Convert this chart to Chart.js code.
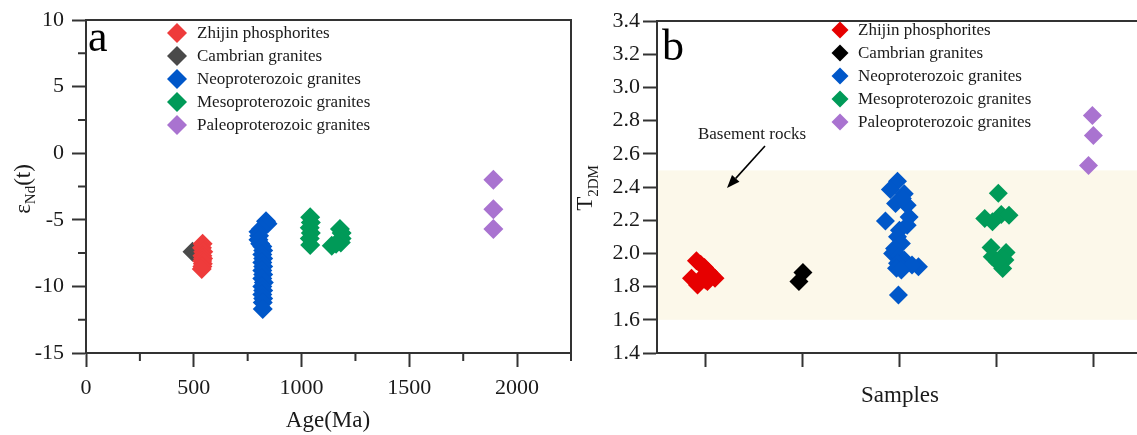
<!DOCTYPE html>
<html><head><meta charset="utf-8">
<script src="https://cdn.jsdelivr.net/npm/chart.js@4.4.1/dist/chart.umd.min.js"></script>
<style>
html,body{margin:0;padding:0;background:#fff;width:1137px;height:435px;overflow:hidden;}
#wa{position:absolute;left:0;top:0;width:575px;height:435px;}
#wb{position:absolute;left:560px;top:0;width:577px;height:435px;}
</style></head><body>
<div id="wa"><canvas id="ca" width="575" height="435"></canvas></div>
<div id="wb"><canvas id="cb" width="577" height="435"></canvas></div>
<script>
// ---------- data ----------
const seriesLabels = ['Zhijin phosphorites','Cambrian granites','Neoproterozoic granites','Mesoproterozoic granites','Paleoproterozoic granites'];
const colorsA = ['#ee3b3b','#4a4a4a','#0057c9','#009a58','#a973d0'];
const colorsB = ['#e60000','#000000','#0057c9','#009a58','#a973d0'];

// panel a : age (Ma) vs eNd(t)
const ageTicks = [0, 500, 1000, 1500, 2000];
const ageMinorTicks = [250, 750, 1250, 1750, 2250];
const epsTicks = [-15, -10, -5, 0, 5, 10];
const epsMinorTicks = [-12.5, -7.5, -2.5, 2.5, 7.5];
const zhijinAge = [541, 538, 544, 540, 543, 539, 542, 540, 537];
const zhijinEps = [-6.8, -7.1, -7.4, -7.7, -7.9, -8.1, -8.3, -8.5, -8.7];
const cambrianAge = [494];
const cambrianEps = [-7.4];
const neoAge = [835, 842, 812, 800, 803, 800, 808, 818, 822, 818, 822, 818, 822, 818, 822, 818, 825, 818, 822, 818, 822, 820, 820];
const neoEps = [-5.1, -5.3, -5.7, -5.9, -6.2, -6.5, -6.8, -7.0, -7.3, -7.6, -7.9, -8.2, -8.5, -8.8, -9.1, -9.4, -9.7, -10.0, -10.3, -10.6, -10.9, -11.2, -11.7];
const mesoAge = [1040, 1043, 1038, 1043, 1038, 1040, 1178, 1186, 1186, 1182, 1160, 1140];
const mesoEps = [-4.8, -5.2, -5.6, -6.0, -6.4, -6.9, -5.7, -6.0, -6.4, -6.7, -6.8, -6.95];
const paleoAge = [1890, 1890, 1890];
const paleoEps = [-2.0, -4.2, -5.7];

// panel b : sample group position vs T2DM (Ga)
const sampleTicks = [1, 2, 3, 4, 5];
const t2dmTicks = [1.4, 1.6, 1.8, 2.0, 2.2, 2.4, 2.6, 2.8, 3.0, 3.2, 3.4];
const zhijinPos = [0.856, 0.907, 0.918, 0.95, 0.99, 1.03, 1.06, 1.098, 1.02, 0.97, 1.0];
const zhijinT = [1.85, 1.955, 1.81, 1.935, 1.915, 1.89, 1.87, 1.85, 1.83, 1.86, 1.84];
const cambrianPos = [1.964, 2.005];
const cambrianT = [1.83, 1.885];
const neoPos = [2.98, 2.907, 3.05, 2.96, 3.08, 3.03, 2.856, 3.10, 3.08, 3.0, 2.98, 3.02, 2.95, 2.93, 3.0, 3.05, 2.98, 3.196, 2.97, 3.13, 3.02, 2.99];
const neoT = [2.435, 2.385, 2.36, 2.30, 2.29, 2.33, 2.195, 2.22, 2.17, 2.14, 2.10, 2.06, 2.03, 2.00, 1.98, 1.96, 1.94, 1.92, 1.91, 1.93, 1.90, 1.75];
const mesoPos = [4.02, 3.88, 4.05, 4.13, 3.96, 3.945, 3.957, 4.10, 4.088, 4.065, 4.01];
const mesoT = [2.363, 2.21, 2.235, 2.23, 2.19, 2.035, 1.98, 2.005, 1.96, 1.909, 1.95];
const paleoPos = [4.99, 5.0, 4.95];
const paleoT = [2.83, 2.71, 2.53];

const basementRange = [1.6, 2.5];
const basementLabel = 'Basement rocks';

// ---------- helpers ----------
const FONT = '"Liberation Serif", "Times New Roman", serif';
const AX = '#333333';
const TXT = '#1a1a1a';
const zip = (xs, ys) => xs.map((x, i) => ({x, y: ys[i]}));

function drawDiamond(ctx, x, y, r, c) {
  ctx.beginPath();
  ctx.moveTo(x, y - r); ctx.lineTo(x + r, y); ctx.lineTo(x, y + r); ctx.lineTo(x - r, y);
  ctx.closePath(); ctx.fillStyle = c; ctx.fill();
}
function rotTitle(ctx, bx, cy, parts) {
  ctx.save();
  let total = 0;
  parts.forEach(p => { ctx.font = p.size + 'px ' + FONT; p.w = ctx.measureText(p.t).width; total += p.w; });
  ctx.translate(bx, cy); ctx.rotate(-Math.PI / 2);
  ctx.textBaseline = 'alphabetic'; ctx.textAlign = 'left'; ctx.fillStyle = TXT;
  let x = -total / 2;
  parts.forEach(p => { ctx.font = p.size + 'px ' + FONT; ctx.fillText(p.t, x, p.dy || 0); x += p.w; });
  ctx.restore();
}

const decor = {
  id: 'decor',
  beforeDraw(chart, args, o) {
    if (!o.band) return;
    const ctx = chart.ctx, ca = chart.chartArea, ys = chart.scales.y;
    const yTop = ys.getPixelForValue(o.band[1]), yBot = ys.getPixelForValue(o.band[0]);
    ctx.save(); ctx.fillStyle = '#fcf8ea';
    ctx.fillRect(ca.left, yTop, ca.right - ca.left, yBot - yTop);
    ctx.restore();
  },
  afterDraw(chart, args, o) {
    const ctx = chart.ctx, ca = chart.chartArea, xs = chart.scales.x, ys = chart.scales.y;
    ctx.save();
    ctx.strokeStyle = AX; ctx.lineWidth = 2;
    ctx.beginPath();
    ctx.moveTo(ca.left - 1, ca.top); ctx.lineTo(ca.right + 1, ca.top);
    if (o.rightBorder) { ctx.moveTo(ca.right, ca.top); ctx.lineTo(ca.right, ca.bottom + 1); }
    (o.minorX || []).forEach(v => { const p = xs.getPixelForValue(v); ctx.moveTo(p, ca.bottom); ctx.lineTo(p, ca.bottom + 8); });
    (o.minorY || []).forEach(v => { const p = ys.getPixelForValue(v); ctx.moveTo(ca.left, p); ctx.lineTo(ca.left - 8, p); });
    ctx.stroke();
    // legend
    const L = o.legend;
    ctx.font = L.size + 'px ' + FONT; ctx.textBaseline = 'middle'; ctx.textAlign = 'left';
    chart.data.datasets.forEach((ds, i) => {
      const y = L.y0 + i * L.dy;
      drawDiamond(ctx, L.mx, y, L.r, ds.backgroundColor);
      ctx.fillStyle = TXT; ctx.fillText(ds.label, L.tx, y + 1);
    });
    // x title
    ctx.font = o.xTitle.size + 'px ' + FONT; ctx.textAlign = 'center'; ctx.textBaseline = 'alphabetic';
    ctx.fillStyle = TXT; ctx.fillText(o.xTitle.text, o.xTitle.x, o.xTitle.y);
    // y title
    rotTitle(ctx, o.yTitle.x, o.yTitle.y, o.yTitle.parts);
    // panel letter
    ctx.font = o.letter.size + 'px ' + FONT; ctx.textAlign = 'left'; ctx.fillStyle = '#000';
    ctx.fillText(o.letter.text, o.letter.x, o.letter.y);
    // annotation
    if (o.note) {
      const n = o.note;
      ctx.font = n.size + 'px ' + FONT; ctx.textAlign = 'center'; ctx.fillStyle = TXT;
      ctx.fillText(n.text, n.x, n.y);
      ctx.strokeStyle = '#000'; ctx.lineWidth = 1.6;
      const [x1, y1, x2, y2] = n.arrow;
      const ang = Math.atan2(y2 - y1, x2 - x1), hl = 13, hw = 5;
      const bx = x2 - hl * Math.cos(ang), by = y2 - hl * Math.sin(ang);
      ctx.beginPath(); ctx.moveTo(x1, y1); ctx.lineTo(bx, by); ctx.stroke();
      ctx.beginPath(); ctx.moveTo(x2, y2);
      ctx.lineTo(bx + hw * Math.sin(ang), by - hw * Math.cos(ang));
      ctx.lineTo(bx - hw * Math.sin(ang), by + hw * Math.cos(ang));
      ctx.closePath(); ctx.fillStyle = '#000'; ctx.fill();
    }
    ctx.restore();
  }
};

function axisOpts(extra) {
  return Object.assign({
    type: 'linear',
    border: {display: true, color: AX, width: 2},
    grid: {drawOnChartArea: false, drawTicks: true, tickLength: 14, tickWidth: 2, tickColor: AX, color: AX},
    title: {display: false}
  }, extra);
}
const fixTicks = vals => s => { s.ticks = vals.map(v => ({value: v})); };

Chart.defaults.font.family = FONT;
Chart.defaults.color = TXT;

// ---------- chart a ----------
const rawA = [[zhijinAge, zhijinEps], [cambrianAge, cambrianEps], [neoAge, neoEps], [mesoAge, mesoEps], [paleoAge, paleoEps]];
new Chart(document.getElementById('ca'), {
  type: 'scatter',
  data: {datasets: rawA.map((d, i) => ({
    label: seriesLabels[i], data: zip(d[0], d[1]),
    backgroundColor: colorsA[i], borderWidth: 0, pointStyle: 'rectRot', pointRadius: 10, pointHoverRadius: 10
  }))},
  options: {
    responsive: false, animation: false, devicePixelRatio: 1,
    layout: {autoPadding: false, padding: {top: 20, right: 4, left: 0, bottom: 0}},
    plugins: {
      legend: {display: false}, tooltip: {enabled: false},
      decor: {
        rightBorder: true,
        minorX: ageMinorTicks,
        minorY: epsMinorTicks,
        legend: {mx: 177, tx: 197, y0: 33, dy: 23, r: 10, size: 17},
        xTitle: {text: 'Age(Ma)', x: 328, y: 427, size: 23},
        yTitle: {x: 30, y: 189, parts: [{t: 'ε', size: 23}, {t: 'Nd', size: 15, dy: 5}, {t: '(t)', size: 23}]},
        letter: {text: 'a', x: 88, y: 51, size: 44}
      }
    },
    scales: {
      x: axisOpts({position: 'bottom', min: 0, max: 2250,
        afterBuildTicks: fixTicks(ageTicks),
        ticks: {padding: 8, color: TXT, font: {size: 22, family: FONT}, autoSkip: false, maxRotation: 0, callback: v => String(v)},
        afterFit: s => { s.height = 82; s.paddingLeft = 0; s.paddingRight = 0; }}),
      y: axisOpts({position: 'left', min: -15, max: 10,
        afterBuildTicks: fixTicks(epsTicks),
        ticks: {padding: 8, color: TXT, font: {size: 22, family: FONT}, autoSkip: false, callback: v => String(v)},
        afterFit: s => { s.width = 86; s.paddingTop = 0; s.paddingBottom = 0; }})
    }
  },
  plugins: [decor]
});

// ---------- chart b ----------
const rawB = [[zhijinPos, zhijinT], [cambrianPos, cambrianT], [neoPos, neoT], [mesoPos, mesoT], [paleoPos, paleoT]];
new Chart(document.getElementById('cb'), {
  type: 'scatter',
  data: {datasets: rawB.map((d, i) => ({
    label: seriesLabels[i], data: zip(d[0], d[1]),
    backgroundColor: colorsB[i], borderWidth: 0, pointStyle: 'rectRot', pointRadius: 9.5, pointHoverRadius: 9.5
  }))},
  options: {
    responsive: false, animation: false, devicePixelRatio: 1,
    layout: {autoPadding: false, padding: {top: 21, right: 0, left: 0, bottom: 0}},
    plugins: {
      legend: {display: false}, tooltip: {enabled: false},
      decor: {
        band: basementRange,
        legend: {mx: 280, tx: 298, y0: 30, dy: 23, r: 8.5, size: 17},
        xTitle: {text: 'Samples', x: 340, y: 402, size: 23},
        yTitle: {x: 32, y: 188, parts: [{t: 'T', size: 23}, {t: '2DM', size: 15, dy: 6}]},
        letter: {text: 'b', x: 102, y: 60, size: 44},
        note: {text: basementLabel, x: 192, y: 139, size: 17, arrow: [205, 146, 167, 188]}
      }
    },
    scales: {
      x: axisOpts({position: 'bottom', min: 0.5, max: 5.45,
        afterBuildTicks: fixTicks(sampleTicks),
        ticks: {autoSkip: false, maxRotation: 0, callback: () => ''},
        afterFit: s => { s.height = 82; s.paddingLeft = 0; s.paddingRight = 0; }}),
      y: axisOpts({position: 'left', min: 1.4, max: 3.4,
        afterBuildTicks: fixTicks(t2dmTicks),
        ticks: {padding: 3, color: TXT, font: {size: 22, family: FONT}, autoSkip: false,
          callback: v => Number(v).toFixed(1)},
        afterFit: s => { s.width = 97; s.paddingTop = 0; s.paddingBottom = 0; }})
    }
  },
  plugins: [decor]
});
</script>
</body></html>
